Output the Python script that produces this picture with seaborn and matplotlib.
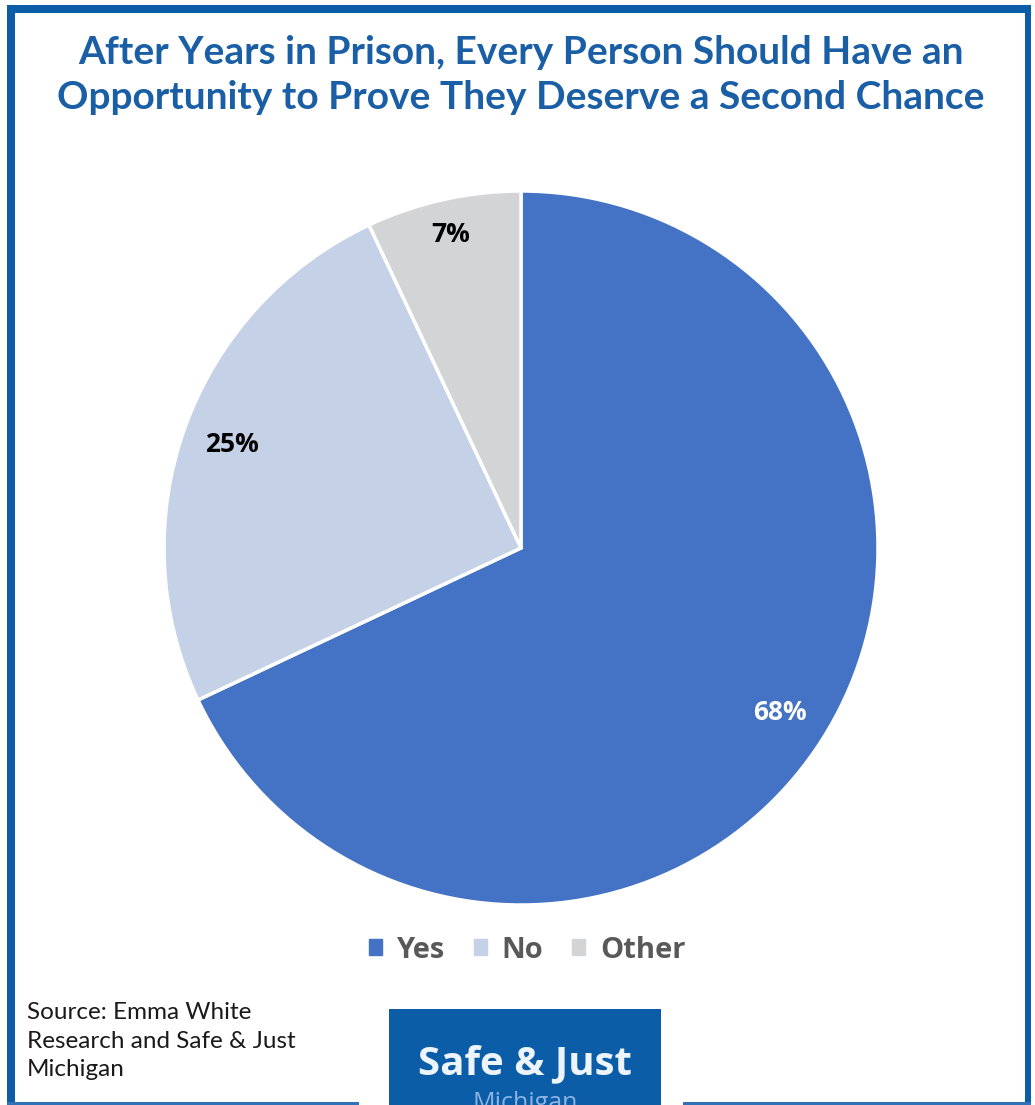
import matplotlib
matplotlib.use('Agg')
import matplotlib.pyplot as plt
import matplotlib.patches as mpatches
import numpy as np
import seaborn as sns

# data
labels = ["Yes", "No", "Other"]
shares = [68, 25, 7]
pct_text = ["68%", "25%", "7%"]
pct_colors = ["white", "black", "black"]
slice_colors = ["#4472C4", "#C5D1E6", "#D3D4D6"]

title = ("After Years in Prison, Every Person Should Have an\n"
         "Opportunity to Prove They Deserve a Second Chance")
source = "Source: Emma White\nResearch and Safe & Just\nMichigan"

sns.set_theme(style="white")
plt.rcParams['font.family'] = ['Open Sans', 'DejaVu Sans']

W, H = 1035, 1105
fig = plt.figure(figsize=(W / 100, H / 100), dpi=100)
fig.patch.set_facecolor("white")

# background axes in pixel coords: frame, title, source, logo
bg = fig.add_axes([0, 0, 1, 1])
bg.set_xlim(0, W)
bg.set_ylim(H, 0)
bg.axis("off")

frame_blue = "#0B5DA8"
bg.add_patch(mpatches.Rectangle((7, 5), 8, 1100, color=frame_blue, lw=0))
bg.add_patch(mpatches.Rectangle((7, 5), 1024, 8, color=frame_blue, lw=0))
bg.add_patch(mpatches.Rectangle((1025, 5), 6, 1100, color=frame_blue, lw=0))
bg.add_patch(mpatches.Rectangle((7, 1102), 352, 3, color="#2F72B8", lw=0))
bg.add_patch(mpatches.Rectangle((683, 1102), 348, 3, color="#2F72B8", lw=0))

bg.text(521, 75, title, ha="center", va="center", fontsize=28,
        fontweight="bold", color="#1A5FA6", linespacing=1.32,
        family=['Lato', 'DejaVu Sans'])

bg.text(27, 1041, source, ha="left", va="center", fontsize=17.5,
        color="#1a1a1a", linespacing=1.42, family=['Lato', 'DejaVu Sans'])

# logo block
logo = mpatches.Rectangle((389, 1009), 272, 96, color=frame_blue, lw=0)
bg.add_patch(logo)
bg.text(525, 1064, "Safe & Just", ha="center", va="center", fontsize=29,
        fontweight="bold", color="#EEF4FB")
mich = bg.text(525, 1103, "Michigan", ha="center", va="center", fontsize=18,
               color="#8DB3E2")
mich.set_clip_path(logo)

# pie axes: center (521, 548), radius 357 px
cx, cy, r = 521, 548, 357
ax = fig.add_axes([(cx - r) / W, (H - cy - r) / H, 2 * r / W, 2 * r / H])
wedges, _ = ax.pie(shares, colors=slice_colors, startangle=90, counterclock=False,
                   radius=1, wedgeprops=dict(edgecolor="white", linewidth=2.5))
ax.set_xlim(-1, 1)
ax.set_ylim(-1, 1)
ax.set_aspect("auto")

label_r = [0.86, 0.86, 0.90]
start = 90.0
for val, txt, col, lr in zip(shares, pct_text, pct_colors, label_r):
    mid = np.deg2rad(start - val / 100 * 360 / 2)
    ax.text(lr * np.cos(mid), lr * np.sin(mid), txt, ha="center", va="center",
            fontsize=19, fontweight="bold", color=col)
    start -= val / 100 * 360

handles = [mpatches.Patch(color=c) for c in slice_colors]
leg = fig.legend(handles, labels, loc="center", bbox_to_anchor=(527 / W, 1 - 950 / H),
                 ncol=3, frameon=False, handlelength=0.45, handleheight=0.45,
                 handletextpad=0.5, columnspacing=1.0,
                 prop=dict(weight='bold', size=21))
for t in leg.get_texts():
    t.set_color("#595959")

fig.savefig("out.png", dpi=100)
